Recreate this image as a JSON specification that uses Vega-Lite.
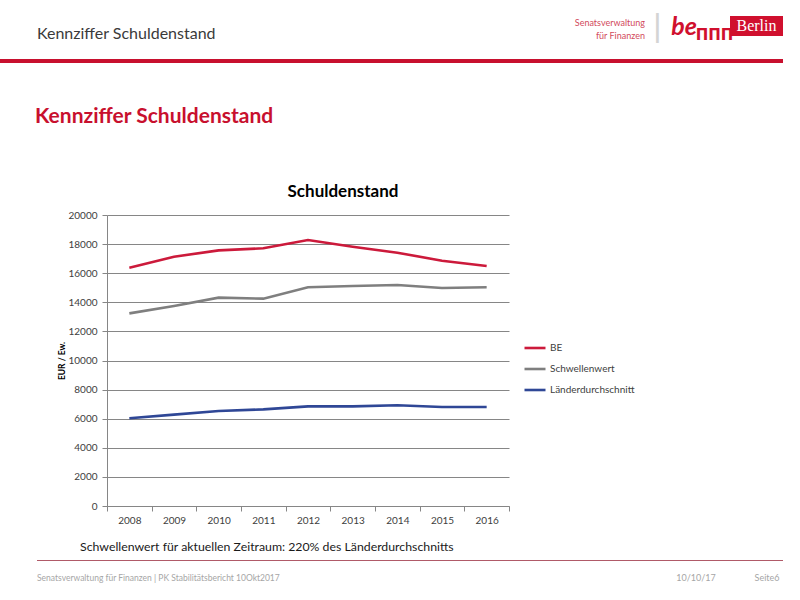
{
  "$schema": "https://vega.github.io/schema/vega-lite/v6.json",
  "padding": 0,
  "autosize": {"type": "pad"},
  "background": "white",
  "config": {
    "view": {"stroke": null},
    "concat": {"spacing": 0},
    "font": "Lato"
  },
  "spacing": 0,
  "vconcat": [
    {
      "bounds": "flush",
      "spacing": 0,
      "hconcat": [
        {"width": 74, "height": 52, "data": {"values": [{"label": "Kennziffer Schuldenstand"}]},
         "mark": {"type": "text", "align": "left", "baseline": "top", "fontSize": 16, "color": "#3a3a3a"},
         "encoding": {"text": {"field": "label"}}},
        {"width": 570, "height": 59, "data": {"values": []}, "mark": "text", "encoding": {}},
        {"width": 2, "height": 37, "data": {"values": [{"label": "Senatsverwaltung\nfür Finanzen"}]},
         "mark": {"type": "text", "align": "right", "baseline": "top", "lineBreak": "\n", "lineHeight": 13.5, "fontSize": 9, "color": "#d24a5c"},
         "encoding": {"text": {"field": "label"}}},
        {"width": 23, "height": 51, "data": {"values": [{"label": "|"}]},
         "mark": {"type": "text", "baseline": "middle", "font": "Liberation Sans", "fontSize": 32, "color": "#d4d4d4"},
         "encoding": {"text": {"field": "label"}}},
        {"width": 30, "height": 54, "data": {"values": [{"label": "be"}]},
         "mark": {"type": "text", "baseline": "middle", "fontSize": 25, "fontWeight": "bold", "fontStyle": "italic", "color": "#d0102e"},
         "encoding": {"text": {"field": "label"}}},
        {"width": 31, "height": 56, "data": {"values": [{"label": "ППП"}]},
         "mark": {"type": "text", "baseline": "top", "font": "DejaVu Sans", "fontSize": 15, "fontWeight": "bold", "color": "#d0102e"},
         "encoding": {"text": {"field": "label"}}},
        {
          "spacing": 0,
          "vconcat": [
            {"width": 53, "height": 16, "data": {"values": []}, "mark": "text", "encoding": {}},
            {"width": 53, "height": 20, "view": {"fill": "#d0102e"}, "data": {"values": [{"label": "Berlin"}]},
             "mark": {"type": "text", "baseline": "middle", "font": "Liberation Serif", "fontSize": 16, "color": "#ffffff"},
             "encoding": {"text": {"field": "label"}}}
          ]
        }
      ]
    },
    {"width": 783, "height": 4, "view": {"fill": "#c8102e"}, "data": {"values": []}, "mark": "text", "encoding": {}},
    {"width": 70, "height": 120, "data": {"values": [{"label": "Kennziffer Schuldenstand"}]},
     "mark": {"type": "text", "align": "left", "baseline": "alphabetic", "fontSize": 21, "fontWeight": "bold", "color": "#c8102e"},
     "encoding": {"text": {"field": "label"}}},
    {
      "bounds": "flush",
      "spacing": 0,
      "hconcat": [
        {"width": 107, "height": 1, "data": {"values": []}, "mark": "text", "encoding": {}},
        {
          "width": 402,
          "height": 291,
          "title": {"text": "Schuldenstand", "fontSize": 17, "fontWeight": "bold", "color": "#000000", "anchor": "middle", "dx": 35, "offset": 9},
          "data": {"values": [
            {"Jahr": "2008", "Reihe": "BE", "Wert": 16380},
            {"Jahr": "2009", "Reihe": "BE", "Wert": 17130},
            {"Jahr": "2010", "Reihe": "BE", "Wert": 17570},
            {"Jahr": "2011", "Reihe": "BE", "Wert": 17710},
            {"Jahr": "2012", "Reihe": "BE", "Wert": 18280},
            {"Jahr": "2013", "Reihe": "BE", "Wert": 17820},
            {"Jahr": "2014", "Reihe": "BE", "Wert": 17410},
            {"Jahr": "2015", "Reihe": "BE", "Wert": 16860},
            {"Jahr": "2016", "Reihe": "BE", "Wert": 16500},
            {"Jahr": "2008", "Reihe": "Schwellenwert", "Wert": 13240},
            {"Jahr": "2009", "Reihe": "Schwellenwert", "Wert": 13750},
            {"Jahr": "2010", "Reihe": "Schwellenwert", "Wert": 14320},
            {"Jahr": "2011", "Reihe": "Schwellenwert", "Wert": 14250},
            {"Jahr": "2012", "Reihe": "Schwellenwert", "Wert": 15030},
            {"Jahr": "2013", "Reihe": "Schwellenwert", "Wert": 15120},
            {"Jahr": "2014", "Reihe": "Schwellenwert", "Wert": 15190},
            {"Jahr": "2015", "Reihe": "Schwellenwert", "Wert": 14980},
            {"Jahr": "2016", "Reihe": "Schwellenwert", "Wert": 15030},
            {"Jahr": "2008", "Reihe": "Länderdurchschnitt", "Wert": 6030},
            {"Jahr": "2009", "Reihe": "Länderdurchschnitt", "Wert": 6280},
            {"Jahr": "2010", "Reihe": "Länderdurchschnitt", "Wert": 6530},
            {"Jahr": "2011", "Reihe": "Länderdurchschnitt", "Wert": 6640},
            {"Jahr": "2012", "Reihe": "Länderdurchschnitt", "Wert": 6850},
            {"Jahr": "2013", "Reihe": "Länderdurchschnitt", "Wert": 6850},
            {"Jahr": "2014", "Reihe": "Länderdurchschnitt", "Wert": 6920},
            {"Jahr": "2015", "Reihe": "Länderdurchschnitt", "Wert": 6800},
            {"Jahr": "2016", "Reihe": "Länderdurchschnitt", "Wert": 6800}
          ]},
          "mark": {"type": "line", "strokeWidth": 2.6},
          "encoding": {
            "x": {
              "field": "Jahr", "type": "ordinal", "bandPosition": 0.5,
              "scale": {"type": "band", "paddingInner": 0, "paddingOuter": 0},
              "axis": {"title": null, "labelAngle": 0, "tickBand": "extent", "tickSize": 5, "tickColor": "#868686",
                       "domainColor": "#868686", "labelFontSize": 10, "labelColor": "#404040", "labelPadding": 4, "grid": false}
            },
            "y": {
              "field": "Wert", "type": "quantitative",
              "scale": {"domain": [0, 20000]},
              "axis": {"values": [0, 2000, 4000, 6000, 8000, 10000, 12000, 14000, 16000, 18000, 20000], "format": "d",
                       "title": "EUR / Ew.", "titleFontSize": 8.5, "titleFontWeight": "bold", "titleColor": "#000000", "titlePadding": 1,
                       "grid": true, "gridColor": "#868686", "tickSize": 5, "tickColor": "#868686", "domainColor": "#868686",
                       "labelPadding": 5, "labelFontSize": 10, "labelColor": "#404040"}
            },
            "color": {
              "field": "Reihe", "type": "nominal",
              "scale": {"domain": ["BE", "Schwellenwert", "Länderdurchschnitt"], "range": ["#cc1a3b", "#7f7f7f", "#2f4796"]},
              "legend": {"orient": "none", "legendX": 523, "legendY": 336, "title": null, "symbolType": "stroke",
                         "symbolStrokeWidth": 2.6, "symbolSize": 441, "labelFontSize": 10, "labelColor": "#404040",
                         "labelOffset": 3, "rowPadding": 3}
            }
          }
        }
      ]
    },
    {"width": 160, "height": 31, "data": {"values": [{"label": "Schwellenwert für aktuellen Zeitraum: 220% des Länderdurchschnitts"}]},
     "mark": {"type": "text", "align": "left", "baseline": "top", "fontSize": 12.3, "color": "#1a1a1a"},
     "encoding": {"text": {"field": "label"}}},
    {"width": 1, "height": 4, "data": {"values": []}, "mark": "text", "encoding": {}},
    {
      "bounds": "flush",
      "spacing": 0,
      "hconcat": [
        {"width": 37, "height": 1, "data": {"values": []}, "mark": "text", "encoding": {}},
        {"width": 746, "height": 1, "view": {"fill": "#b05a68"}, "data": {"values": []}, "mark": "text", "encoding": {}}
      ]
    },
    {
      "bounds": "flush",
      "spacing": 0,
      "hconcat": [
        {"width": 74, "height": 26, "data": {"values": [{"label": "Senatsverwaltung für Finanzen | PK Stabilitätsbericht 10Okt2017"}]},
         "mark": {"type": "text", "align": "left", "baseline": "top", "fontSize": 8.5, "color": "#a6a6a6"},
         "encoding": {"text": {"field": "label"}}},
        {"width": 586, "height": 1, "data": {"values": []}, "mark": "text", "encoding": {}},
        {"width": 72, "height": 26, "data": {"values": [{"label": "10/10/17"}]},
         "mark": {"type": "text", "baseline": "top", "fontSize": 9, "color": "#a6a6a6"},
         "encoding": {"text": {"field": "label"}}},
        {"width": 18, "height": 1, "data": {"values": []}, "mark": "text", "encoding": {}},
        {"width": 34, "height": 26, "data": {"values": [{"label": "Seite6"}]},
         "mark": {"type": "text", "baseline": "top", "fontSize": 9, "color": "#a6a6a6"},
         "encoding": {"text": {"field": "label"}}}
      ]
    }
  ]
}
